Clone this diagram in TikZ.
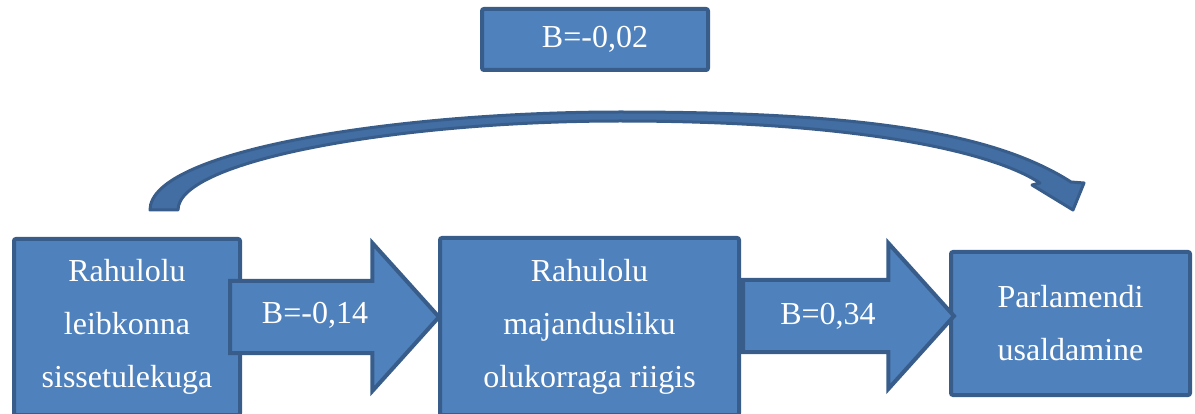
\documentclass[tikz,border=0pt]{standalone}
\usepackage{fontspec}
\setmainfont{Liberation Serif}
\usetikzlibrary{shapes.arrows}
\definecolor{boxfill}{RGB}{79,129,189}
\definecolor{boxline}{RGB}{56,93,138}
\definecolor{curvefill}{RGB}{66,110,164}
\begin{document}
\begin{tikzpicture}[x=1pt, y=-1pt, line width=4pt]
% define node styles
\tikzstyle{every node} = [text=white, font=\fontsize{32}{53}\selectfont, align=center]
\tikzstyle{box}        = [draw=boxline, fill=boxfill, rounded corners=2pt, inner sep=0pt]
\tikzstyle{blockarrow} = [draw=boxline, fill=boxfill, single arrow, single arrow tip angle=96,
                          single arrow head extend=38pt, anchor=tail, inner xsep=0pt, inner ysep=34pt,
                          text height=0pt, text depth=0pt]
\tikzstyle{weight}     = [inner sep=0pt]

\useasboundingbox (0,0) rectangle (1195,414);

% boxes
\foreach \n/\x/\y/\w/\h/\t in {top/595/39.5/226/61/{B=-0,02},
    income/127/327/226/176/{Rahulolu\\leibkonna\\sissetulekuga},
    economy/589.5/326.5/299/177/{Rahulolu\\majandusliku\\olukorraga riigis},
    trust/1070.5/323.5/239/143/{Parlamendi\\usaldamine}}
    \node [box, minimum width=\w pt, minimum height=\h pt] (\n) at (\x,\y) {\t};

% curved arrow
\draw [draw=boxline, fill=curvefill, line width=3pt, line join=round]
    (150,210) .. controls (150,150) and (400,112) .. (620,112)
    .. controls (850,112) and (990,130) .. (1071,182)
    -- (1084,183) -- (1073,210) -- (1032,185) -- (1040,183)
    .. controls (990,150) and (850,121) .. (620,121)
    .. controls (400,121) and (178,160) .. (178,210) -- cycle;

% block arrows
\node [blockarrow, minimum height=209pt] (a1) at (228,317) {};
\node [blockarrow, minimum height=211pt, single arrow head extend=37pt] (a2) at (741,316) {};

% weights
\node [weight] (w1) at (315,315) {B=-0,14};
\node [weight] (w2) at (828,316) {B=0,34};

\end{tikzpicture}
\end{document}
